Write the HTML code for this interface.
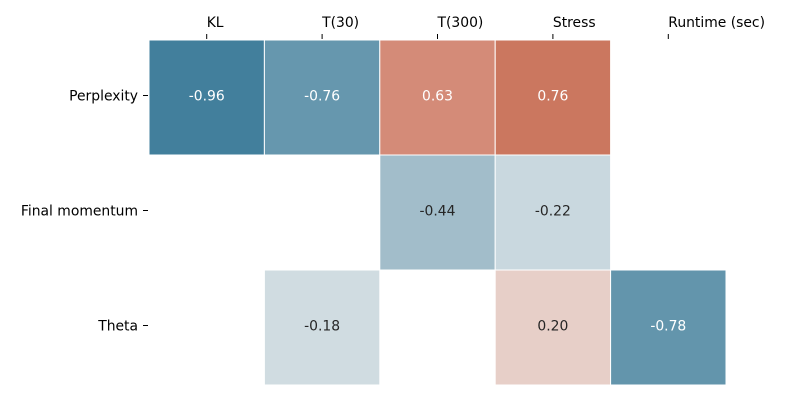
<!DOCTYPE html>
<html><head><meta charset="utf-8"><style>
body{margin:0;background:#fff;font-family:"Liberation Sans","DejaVu Sans",sans-serif;}
svg text{font-family:"DejaVu Sans","Liberation Sans",sans-serif;font-size:13.9px;}
</style></head><body>
<svg id="chart" width="800" height="400"></svg>
<script>
const cols=["KL","T(30)","T(300)","Stress","Runtime (sec)"];
const rows=["Perplexity","Final momentum","Theta"];
const values=[
 [-0.96,-0.76,0.63,0.76,null],
 [null,null,-0.44,-0.22,null],
 [null,-0.18,null,0.20,-0.78]
];
const svg=document.getElementById('chart');
const NS="http://www.w3.org/2000/svg";
const x0=149,y0=40,cw=115.4,ch=115;
function xs(i){return x0+i*cw;}
function ys(j){return y0+j*ch;}
function lerp(a,b,t){return a.map((v,i)=>Math.round(v+(b[i]-v)*t));}
function color(v){
 const neg=[[0,[242,242,242]],[0.18,[208,220,225]],[0.22,[201,216,223]],[0.44,[162,189,202]],[0.76,[102,151,174]],[0.78,[99,149,172]],[0.96,[66,127,156]],[1,[60,122,152]]];
 const pos=[[0,[242,238,237]],[0.2,[231,207,200]],[0.63,[212,139,120]],[0.76,[203,119,95]],[1,[190,90,62]]];
 const a=v<0?neg:pos, m=Math.abs(v);
 for(let k=1;k<a.length;k++){if(m<=a[k][0]){const t=(m-a[k-1][0])/(a[k][0]-a[k-1][0]);const c=lerp(a[k-1][1],a[k][1],t);return `rgb(${c})`;}}
 return `rgb(${a[a.length-1][1]})`;
}
function el(tag,attrs,txt){const e=document.createElementNS(NS,tag);for(const k in attrs)e.setAttribute(k,attrs[k]);if(txt!==undefined)e.textContent=txt;svg.appendChild(e);return e;}
values.forEach((r,j)=>r.forEach((v,i)=>{
 if(v===null)return;
 const rc=el('rect',{x:xs(i),y:ys(j),width:cw,height:ch,fill:color(v),stroke:'#fff','stroke-width':1});
 
 
 const t=el('text',{x:xs(i)+cw/2,y:ys(j)+ch/2+3,'text-anchor':'middle',fill:Math.abs(v)>0.5?'#fff':'#262626'},v.toFixed(2));
 
 
}));
cols.forEach((c,i)=>{
 const cx=xs(i)+cw/2;
 const tk=el('line',{x1:cx,x2:cx,y1:34,y2:39,stroke:'#000','stroke-width':1});
 
 
 const t=el('text',{x:cx,y:27,'text-anchor':'start',fill:'#000'},c);
 
 
});
rows.forEach((r,j)=>{
 const cy=ys(j)+ch/2;
 const tk=el('line',{x1:143,x2:148,y1:cy-2,y2:cy-2,stroke:'#000','stroke-width':1});
 
 
 const t=el('text',{x:138,y:cy+3,'text-anchor':'end',fill:'#000'},r);
 
 
});
</script>
</body></html>
